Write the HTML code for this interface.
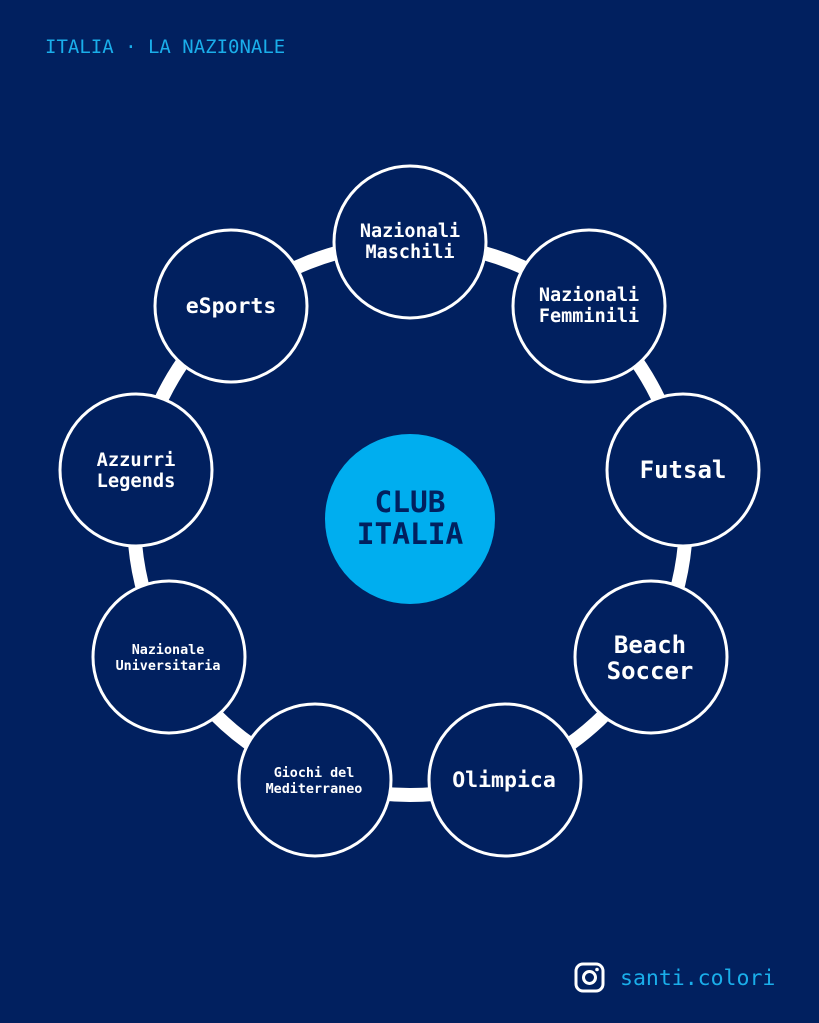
<!DOCTYPE html>
<html><head><style>
body{margin:0;width:819px;height:1023px;background:#01205F;overflow:hidden}
svg{display:block}
text{font-family:"DejaVu Sans Mono","Liberation Mono",monospace;font-weight:bold;fill:#fff;text-anchor:middle}
</style></head><body>
<svg width="819" height="1023" viewBox="0 0 819 1023">
<rect width="819" height="1023" fill="#01205F"/>
<text x="45" y="53" style="text-anchor:start;font-weight:normal;font-size:19px;fill:#1AAEEA">ITALIA · LA NAZI0NALE</text>
<circle cx="410" cy="519" r="276" fill="none" stroke="#fff" stroke-width="14"/>
<g fill="#01205F" stroke="#fff" stroke-width="3">
<circle cx="410" cy="242" r="76"/>
<circle cx="589" cy="306" r="76"/>
<circle cx="683" cy="470" r="76"/>
<circle cx="651" cy="657" r="76"/>
<circle cx="505" cy="780" r="76"/>
<circle cx="315" cy="780" r="76"/>
<circle cx="169" cy="657" r="76"/>
<circle cx="136" cy="470" r="76"/>
<circle cx="231" cy="306" r="76"/>
</g>
<circle cx="410" cy="519" r="85" fill="#00AEEF"/>
<text x="410" y="512" style="font-size:29.5px;fill:#01205F">CLUB</text>
<text x="410" y="544" style="font-size:29.5px;fill:#01205F">ITALIA</text>
<text x="410" y="237" font-size="18.5">Nazionali</text>
<text x="410" y="258" font-size="18.5">Maschili</text>
<text x="589" y="301" font-size="18.5">Nazionali</text>
<text x="589" y="322" font-size="18.5">Femminili</text>
<text x="683" y="478" font-size="24">Futsal</text>
<text x="650" y="653" font-size="24">Beach</text>
<text x="650" y="679" font-size="24">Soccer</text>
<text x="504" y="787" font-size="21.5">Olimpica</text>
<text x="314" y="777" font-size="13.4">Giochi del</text>
<text x="314" y="793" font-size="13.4">Mediterraneo</text>
<text x="168" y="654" font-size="13.4">Nazionale</text>
<text x="168" y="670" font-size="13.4">Universitaria</text>
<text x="136" y="466" font-size="18.7">Azzurri</text>
<text x="136" y="487" font-size="18.7">Legends</text>
<text x="231" y="313" font-size="21.5">eSports</text>
<g fill="none" stroke="#fff" stroke-width="3">
<rect x="576" y="964" width="27" height="27" rx="7"/>
<circle cx="589.5" cy="977.5" r="6"/>
</g>
<circle cx="597" cy="969.5" r="1.8" fill="#fff"/>
<text x="620" y="985" style="text-anchor:start;font-weight:normal;font-size:21.5px;fill:#1AAEEA">santi.colori</text>
</svg>
</body></html>
